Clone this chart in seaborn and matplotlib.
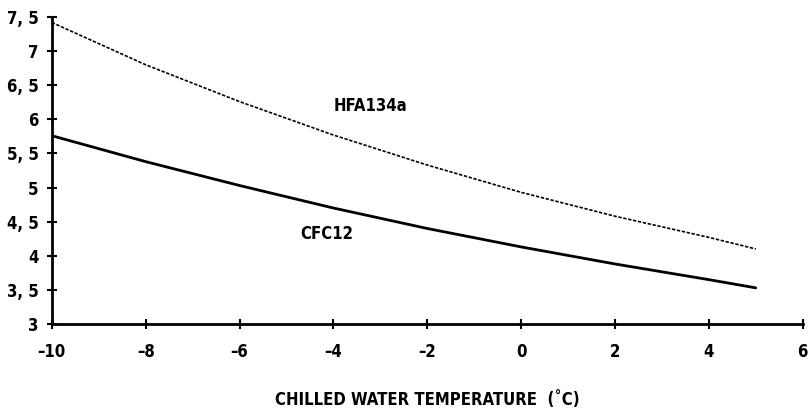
import pandas as pd
import seaborn as sns
import matplotlib.pyplot as plt
from matplotlib import font_manager

# Values
temps = [-10, -8, -6, -4, -2, 0, 2, 4, 5]
hfa134a = [7.42, 6.80, 6.26, 5.77, 5.33, 4.93, 4.58, 4.27, 4.10]
cfc12 = [5.76, 5.38, 5.03, 4.70, 4.40, 4.13, 3.88, 3.65, 3.53]
x_ticks = [-10, -8, -6, -4, -2, 0, 2, 4, 6]
y_ticks = [3, 3.5, 4, 4.5, 5, 5.5, 6, 6.5, 7, 7.5]
y_labels = ['3', '3, 5', '4', '4, 5', '5', '5, 5', '6', '6, 5', '7', '7, 5']

df = pd.DataFrame({'temp': temps + temps,
                   'value': hfa134a + cfc12,
                   'gas': ['HFA134a'] * len(temps) + ['CFC12'] * len(temps)})

sns.set_style('ticks')
names = {f.name for f in font_manager.fontManager.ttflist}
print(sorted(n for n in names if 'Narrow' in n or 'Condensed' in n))
plt.rcParams['font.family'] = ['DejaVu Sans']
plt.rcParams['font.stretch'] = 'condensed'
plt.rcParams['font.weight'] = 'bold'
plt.rcParams['text.color'] = 'black'

fig = plt.figure(figsize=(8.1, 4.12), dpi=100)
ax = fig.add_axes([0.064, 0.2136, 0.927, 0.7451])

sns.lineplot(data=df, x='temp', y='value', hue='gas', style='gas',
             palette={'HFA134a': 'black', 'CFC12': 'black'},
             dashes={'HFA134a': (2, 1), 'CFC12': ''},
             size='gas', sizes={'HFA134a': 1.2, 'CFC12': 2.0},
             legend=False, ax=ax)

ax.set_xlim(-10, 6)
ax.set_ylim(3, 7.5)
ax.set_xticks(x_ticks)
ax.set_xticklabels([str(t).replace('-', '\u2013') for t in x_ticks])
ax.set_yticks(y_ticks)
ax.set_yticklabels(y_labels)
ax.tick_params(direction='inout', length=7, width=1.5, labelsize=12,
               colors='black', labelcolor='black', pad=6,
               bottom=True, left=True)
ax.tick_params(axis='x', pad=10)

sns.despine(ax=ax)
for side in ['left', 'bottom']:
    ax.spines[side].set_linewidth(2)
    ax.spines[side].set_color('black')

ax.text(-3.22, 6.20, 'HFA134a', ha='center', va='center', fontsize=12,
        color='black')
ax.text(-4.14, 4.32, 'CFC12', ha='center', va='center', fontsize=12,
        color='black')

ax.set_xlabel('CHILLED WATER TEMPERATURE  (\u02daC)', fontsize=12,
              fontweight='bold', color='black', labelpad=22)
ax.set_ylabel('')

fig.savefig('out.png', dpi=100)
